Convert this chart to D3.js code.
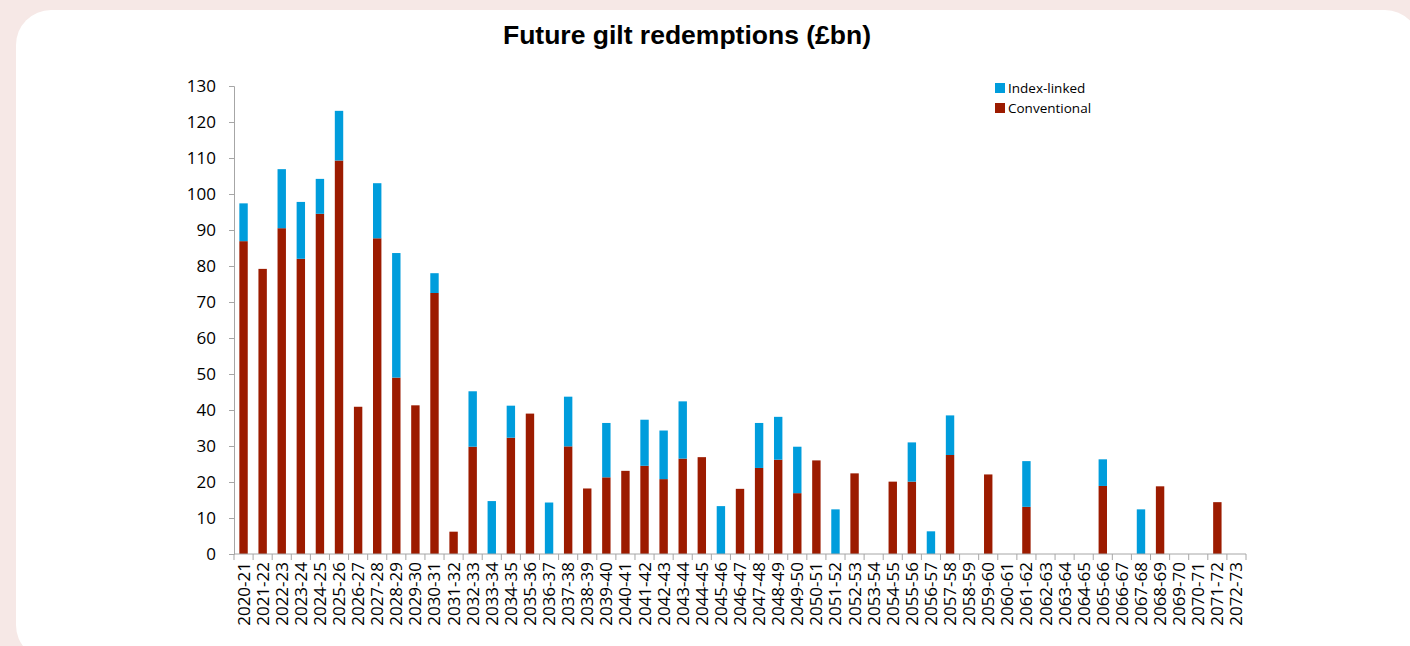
<!DOCTYPE html>
<html><head><meta charset="utf-8">
<script src="https://cdn.jsdelivr.net/npm/d3@7"></script>
<style>
html,body{margin:0;padding:0;background:#f6e8e6;}
svg{display:block;}
</style></head>
<body>
<svg id="chart" width="1410" height="646"></svg>
<script>
const categories = ["2020-21","2021-22","2022-23","2023-24","2024-25","2025-26","2026-27","2027-28","2028-29","2029-30","2030-31","2031-32","2032-33","2033-34","2034-35","2035-36","2036-37","2037-38","2038-39","2039-40","2040-41","2041-42","2042-43","2043-44","2044-45","2045-46","2046-47","2047-48","2048-49","2049-50","2050-51","2051-52","2052-53","2053-54","2054-55","2055-56","2056-57","2057-58","2058-59","2059-60","2060-61","2061-62","2062-63","2063-64","2064-65","2065-66","2066-67","2067-68","2068-69","2069-70","2070-71","2071-72","2072-73"];
const conventional = [86.9,79.2,90.5,82.0,94.5,109.3,40.9,87.7,49.0,41.3,72.5,6.2,29.8,0,32.3,39.0,0,29.9,18.2,21.3,23.1,24.5,20.8,26.5,26.9,0,18.1,23.9,26.2,16.9,26.0,0,22.4,0,20.1,20.1,0,27.5,0,22.1,0,13.1,0,0,0,18.9,0,0,18.8,0,0,14.4,0];
const indexLinked = [10.5,0,16.4,15.8,9.7,13.8,0,15.3,34.6,0,5.5,0,15.4,14.7,8.9,0,14.3,13.8,0,15.1,0,12.8,13.5,15.9,0,13.3,0,12.5,11.9,12.9,0,12.4,0,0,0,10.9,6.3,11.0,0,0,0,12.7,0,0,0,7.4,0,12.4,0,0,0,0,0];
const yTicks = [0,10,20,30,40,50,60,70,80,90,100,110,120,130];
const seriesNames = ["Index-linked","Conventional"];
const colors = {"Index-linked":"#009ddc","Conventional":"#9c1b00"};

const svg = d3.select("#chart");
// card
svg.append("rect").attr("x",16).attr("y",10).attr("width",1404).attr("height",650).attr("rx",35).attr("ry",35).attr("fill","#ffffff");

const margin = {left:234, right:1246, top:86, bottom:554};
const x = d3.scaleBand().domain(categories).range([margin.left, margin.right]).paddingInner(0.56).paddingOuter(0.28);
const y = d3.scaleLinear().domain([0,130]).range([margin.bottom, margin.top]);

// title
svg.append("text").attr("x",687).attr("y",44).attr("text-anchor","middle")
  .attr("font-family","Liberation Sans, Arial, sans-serif").attr("font-weight","bold").attr("font-size",26.5)
  .attr("fill","#000").text("Future gilt redemptions (£bn)");

const data = categories.map((c,i)=>({cat:c, Conventional:conventional[i], "Index-linked":indexLinked[i]}));
const stack = d3.stack().keys(["Conventional","Index-linked"])(data);

const g = svg.append("g");
stack.forEach(layer=>{
  g.selectAll(null).data(layer.filter(d=>d[1]-d[0]>0)).enter().append("rect")
    .attr("x",d=>x(d.data.cat)).attr("width",x.bandwidth())
    .attr("y",d=>y(d[1])).attr("height",d=>y(d[0])-y(d[1]))
    .attr("fill",colors[layer.key]);
});

// y axis
const yAxis = d3.axisLeft(y).tickValues(yTicks).tickSize(5).tickPadding(13);
const ya = svg.append("g").attr("transform",`translate(${margin.left},0)`).call(yAxis);
ya.select(".domain").attr("stroke","#a6a6a6");
ya.selectAll(".tick line").attr("stroke","#a6a6a6");
ya.selectAll(".tick text").attr("font-family","Open Sans, sans-serif").attr("font-size",17).attr("fill","#000");

// x axis
const xa = svg.append("g").attr("transform",`translate(0,${margin.bottom})`);
xa.append("line").attr("x1",margin.left).attr("x2",margin.right).attr("stroke","#a6a6a6");
const bounds = d3.range(categories.length+1).map(i=>margin.left + i*(margin.right-margin.left)/categories.length);
xa.selectAll(null).data(bounds).enter().append("line")
  .attr("x1",d=>d).attr("x2",d=>d).attr("y1",0).attr("y2",6).attr("stroke","#a6a6a6");
xa.selectAll(null).data(categories).enter().append("text")
  .attr("transform",d=>`translate(${x(d)+x.bandwidth()/2+6},8) rotate(-90)`)
  .attr("text-anchor","end").attr("font-family","Open Sans, sans-serif").attr("font-size",17).attr("fill","#000")
  .text(d=>d);

// legend
const lg = svg.append("g");
seriesNames.forEach((s,i)=>{
  lg.append("rect").attr("x",995).attr("y",83+i*20).attr("width",10).attr("height",10).attr("fill",colors[s]);
  lg.append("text").attr("x",1008).attr("y",93+i*20).attr("font-family","Open Sans, sans-serif").attr("font-size",13.5).attr("fill","#000").text(s);
});
</script>
</body></html>
